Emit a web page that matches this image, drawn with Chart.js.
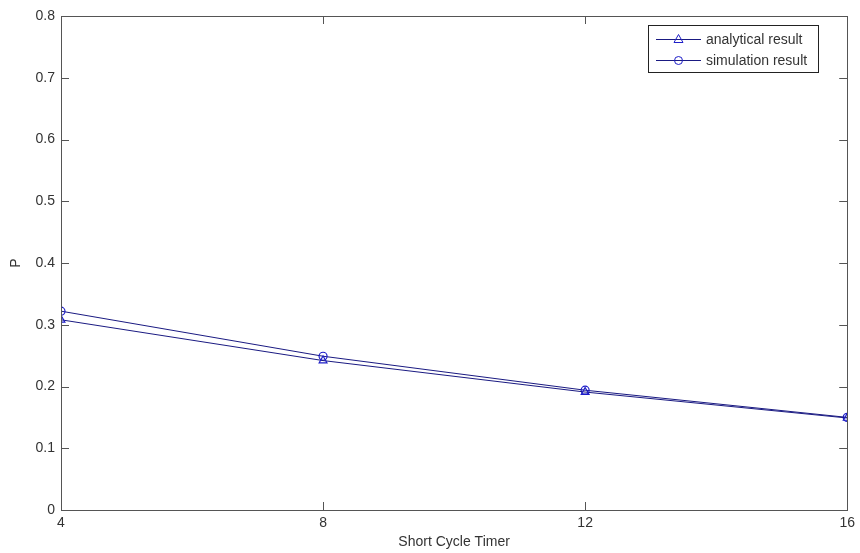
<!DOCTYPE html>
<html>
<head>
<meta charset="utf-8">
<title>P vs Short Cycle Timer</title>
<script src="https://cdn.jsdelivr.net/npm/chart.js@4.4.0/dist/chart.umd.min.js"></script>
<style>
    body { margin: 0; background: #fff; }
    #chart { display: block; }
</style>
</head>
<body>
<canvas id="chart" width="860" height="553"></canvas>
<script>
// Data
const timerValues = [4, 8, 12, 16];
const analyticalResult = [0.308, 0.242, 0.191, 0.149];
const simulationResult = [0.322, 0.249, 0.194, 0.150];
const xTickValues = [4, 8, 12, 16];
const yTickValues = [0, 0.1, 0.2, 0.3, 0.4, 0.5, 0.6, 0.7, 0.8];

const lineColor = 'rgb(26, 26, 130)';
const markerColor = 'rgb(30, 30, 200)';
const frameColor = '#555555';
const textColor = '#333333';
const fontFamily = 'Liberation Sans, Arial, sans-serif';

// Draws the box around the plot, the inward tick marks and the legend box
const matlabFrame = {
    id: 'matlabFrame',
    afterDraw(chart) {
        const ctx = chart.ctx;
        const area = chart.chartArea;
        const xScale = chart.scales.x;
        const yScale = chart.scales.y;
        const tick = 8;

        ctx.save();
        ctx.strokeStyle = frameColor;
        ctx.lineWidth = 1;
        ctx.strokeRect(Math.round(area.left) + 0.5, Math.round(area.top) + 0.5,
            Math.round(area.right - area.left), Math.round(area.bottom - area.top));

        ctx.beginPath();
        xTickValues.forEach(v => {
            const px = Math.round(xScale.getPixelForValue(v)) + 0.5;
            ctx.moveTo(px, area.bottom); ctx.lineTo(px, area.bottom - tick);
            ctx.moveTo(px, area.top); ctx.lineTo(px, area.top + tick);
        });
        yTickValues.forEach(v => {
            const py = Math.round(yScale.getPixelForValue(v)) + 0.5;
            ctx.moveTo(area.left, py); ctx.lineTo(area.left + tick, py);
            ctx.moveTo(area.right, py); ctx.lineTo(area.right - tick, py);
        });
        ctx.stroke();

        // legend
        const boxX = 648.5, boxY = 25.5, boxW = 170, boxH = 47;
        ctx.fillStyle = '#fff';
        ctx.fillRect(boxX, boxY, boxW, boxH);
        ctx.strokeStyle = '#222';
        ctx.strokeRect(boxX, boxY, boxW, boxH);
        ctx.font = '14px ' + fontFamily;
        ctx.textBaseline = 'middle';
        chart.data.datasets.forEach((ds, i) => {
            const y = 39 + i * 21 + 0.5;
            ctx.strokeStyle = lineColor;
            ctx.beginPath();
            ctx.moveTo(656, y); ctx.lineTo(701, y);
            ctx.stroke();
            ctx.strokeStyle = markerColor;
            ctx.beginPath();
            if (ds.pointStyle === 'triangle') {
                ctx.moveTo(678.5, y - 5); ctx.lineTo(683, y + 3); ctx.lineTo(674, y + 3); ctx.closePath();
            } else {
                ctx.arc(678.5, y, 4, 0, Math.PI * 2);
            }
            ctx.stroke();
            ctx.fillStyle = textColor;
            ctx.fillText(ds.label, 706, y + 1);
        });
        ctx.restore();
    }
};

new Chart(document.getElementById('chart'), {
    type: 'line',
    data: {
        datasets: [
            {
                label: 'analytical result',
                data: timerValues.map((t, i) => ({ x: t, y: analyticalResult[i] })),
                borderColor: lineColor,
                borderWidth: 1,
                pointStyle: 'triangle',
                pointRadius: 4.5,
                pointBorderColor: markerColor,
                pointBackgroundColor: 'rgba(0,0,0,0)',
                pointBorderWidth: 1.2,
                tension: 0
            },
            {
                label: 'simulation result',
                data: timerValues.map((t, i) => ({ x: t, y: simulationResult[i] })),
                borderColor: lineColor,
                borderWidth: 1,
                pointStyle: 'circle',
                pointRadius: 4,
                pointBorderColor: markerColor,
                pointBackgroundColor: 'rgba(0,0,0,0)',
                pointBorderWidth: 1.2,
                tension: 0
            }
        ]
    },
    options: {
        responsive: false,
        animation: false,
        layout: { padding: { top: 16, right: 11, left: 0, bottom: 0 } },
        plugins: {
            legend: { display: false },
            tooltip: { enabled: false }
        },
        scales: {
            x: {
                type: 'linear',
                min: 4,
                max: 16,
                afterBuildTicks: scale => { scale.ticks = xTickValues.map(v => ({ value: v })); },
                afterFit: scale => { scale.height = 43; },
                grid: { display: false, drawTicks: false },
                border: { display: false },
                ticks: {
                    color: textColor,
                    font: { family: fontFamily, size: 14 },
                    padding: 5,
                    maxRotation: 0
                },
                title: {
                    display: true,
                    text: 'Short Cycle Timer',
                    color: textColor,
                    font: { family: fontFamily, size: 14 },
                    padding: { top: 0, bottom: 2 }
                }
            },
            y: {
                min: 0,
                max: 0.8,
                afterBuildTicks: scale => { scale.ticks = yTickValues.map(v => ({ value: v })); },
                afterFit: scale => { scale.width = 61; },
                grid: { display: false, drawTicks: false },
                border: { display: false },
                ticks: {
                    color: textColor,
                    font: { family: fontFamily, size: 14 },
                    padding: 6,
                    callback: v => String(Math.round(v * 10) / 10)
                },
                title: {
                    display: true,
                    text: 'P',
                    color: textColor,
                    font: { family: fontFamily, size: 14 },
                    padding: { top: 8, bottom: 0 }
                }
            }
        }
    },
    plugins: [matlabFrame]
});
</script>
</body>
</html>
